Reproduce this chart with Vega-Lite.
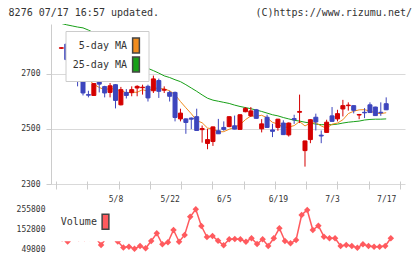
{
  "$schema": "https://vega.github.io/schema/vega-lite/v6.json",
  "padding": {"left": 8, "top": 8, "right": 4, "bottom": 2},
  "title": {
    "text": "8276 07/17 16:57 updated.\u00a0\u00a0\u00a0\u00a0\u00a0\u00a0\u00a0\u00a0\u00a0\u00a0\u00a0\u00a0\u00a0\u00a0\u00a0\u00a0(C)https://www.rizumu.net/",
    "anchor": "start", "frame": "bounds", "dx": -7.5, "offset": 6,
    "font": "DejaVu Sans Mono", "fontSize": 10, "fontWeight": "normal", "color": "#333333"
  },
  "datasets": {
    "stock": [
      {"i": 0, "d": "4/21", "o": 2792, "h": 2795, "l": 2790, "c": 2794, "ma5": null, "ma25": 2882, "v": 110000},
      {"i": 1, "d": "4/22", "o": 2807, "h": 2812, "l": 2744, "c": 2751, "ma5": null, "ma25": 2877, "v": 104000},
      {"i": 2, "d": "4/23", "o": 2744, "h": 2757, "l": 2715, "c": 2719, "ma5": null, "ma25": 2873, "v": 89000},
      {"i": 3, "d": "4/24", "o": 2713, "h": 2717, "l": 2654, "c": 2672, "ma5": null, "ma25": 2869, "v": 132000},
      {"i": 4, "d": "4/25", "o": 2671, "h": 2673, "l": 2621, "c": 2630, "ma5": 2713.2, "ma25": 2866, "v": 105000},
      {"i": 5, "d": "4/28", "o": 2624, "h": 2638, "l": 2614, "c": 2622, "ma5": 2678.8, "ma25": 2858, "v": 105000},
      {"i": 6, "d": "4/30", "o": 2621, "h": 2666, "l": 2619, "c": 2664, "ma5": 2661.4, "ma25": 2848, "v": 106000},
      {"i": 7, "d": "5/1", "o": 2672, "h": 2687, "l": 2632, "c": 2662, "ma5": 2650.0, "ma25": 2835, "v": 109000},
      {"i": 8, "d": "5/2", "o": 2653, "h": 2656, "l": 2614, "c": 2630, "ma5": 2641.6, "ma25": 2822, "v": 70400},
      {"i": 9, "d": "5/7", "o": 2632, "h": 2666, "l": 2614, "c": 2656, "ma5": 2646.8, "ma25": 2808, "v": 109000},
      {"i": 10, "d": "5/8", "o": 2660, "h": 2662, "l": 2574, "c": 2603, "ma5": 2643.0, "ma25": 2795, "v": 117000},
      {"i": 11, "d": "5/9", "o": 2587, "h": 2652, "l": 2585, "c": 2642, "ma5": 2638.6, "ma25": 2783, "v": 88400},
      {"i": 12, "d": "5/12", "o": 2632, "h": 2644, "l": 2610, "c": 2621, "ma5": 2630.4, "ma25": 2770, "v": 57500},
      {"i": 13, "d": "5/13", "o": 2631, "h": 2654, "l": 2618, "c": 2642, "ma5": 2632.8, "ma25": 2757, "v": 61600},
      {"i": 14, "d": "5/14", "o": 2648, "h": 2658, "l": 2618, "c": 2654, "ma5": 2632.4, "ma25": 2744, "v": 51300},
      {"i": 15, "d": "5/15", "o": 2649, "h": 2660, "l": 2624, "c": 2651, "ma5": 2642.0, "ma25": 2731, "v": 65200},
      {"i": 16, "d": "5/16", "o": 2654, "h": 2660, "l": 2599, "c": 2612, "ma5": 2636.0, "ma25": 2719, "v": 53400},
      {"i": 17, "d": "5/19", "o": 2638, "h": 2693, "l": 2630, "c": 2681, "ma5": 2648.0, "ma25": 2711, "v": 91000},
      {"i": 18, "d": "5/20", "o": 2675, "h": 2682, "l": 2612, "c": 2636, "ma5": 2646.8, "ma25": 2702, "v": 130600},
      {"i": 19, "d": "5/21", "o": 2640, "h": 2654, "l": 2630, "c": 2643, "ma5": 2644.6, "ma25": 2692, "v": 74000},
      {"i": 20, "d": "5/22", "o": 2632, "h": 2638, "l": 2599, "c": 2618, "ma5": 2638.0, "ma25": 2686, "v": 84300},
      {"i": 21, "d": "5/23", "o": 2632, "h": 2635, "l": 2527, "c": 2541, "ma5": 2623.8, "ma25": 2678, "v": 147700},
      {"i": 22, "d": "5/26", "o": 2536, "h": 2573, "l": 2527, "c": 2557, "ma5": 2599.0, "ma25": 2671, "v": 87400},
      {"i": 23, "d": "5/27", "o": 2536, "h": 2538, "l": 2482, "c": 2523, "ma5": 2576.4, "ma25": 2660, "v": 121900},
      {"i": 24, "d": "5/28", "o": 2539, "h": 2541, "l": 2499, "c": 2535, "ma5": 2554.8, "ma25": 2648, "v": 216000},
      {"i": 25, "d": "5/29", "o": 2544, "h": 2573, "l": 2494, "c": 2494, "ma5": 2530.0, "ma25": 2636, "v": 254300},
      {"i": 26, "d": "5/30", "o": 2497, "h": 2512, "l": 2450, "c": 2501, "ma5": 2522.0, "ma25": 2623, "v": 168300},
      {"i": 27, "d": "6/2", "o": 2447, "h": 2500, "l": 2426, "c": 2461, "ma5": 2502.8, "ma25": 2611, "v": 111500},
      {"i": 28, "d": "6/3", "o": 2454, "h": 2508, "l": 2438, "c": 2507, "ma5": 2499.6, "ma25": 2604, "v": 116700},
      {"i": 29, "d": "6/4", "o": 2493, "h": 2536, "l": 2482, "c": 2482, "ma5": 2489.0, "ma25": 2600, "v": 91700},
      {"i": 30, "d": "6/5", "o": 2505, "h": 2527, "l": 2493, "c": 2498, "ma5": 2489.8, "ma25": 2596, "v": 68600},
      {"i": 31, "d": "6/6", "o": 2508, "h": 2545, "l": 2506, "c": 2544, "ma5": 2498.4, "ma25": 2592, "v": 99800},
      {"i": 32, "d": "6/9", "o": 2511, "h": 2548, "l": 2498, "c": 2499, "ma5": 2506.0, "ma25": 2586, "v": 101300},
      {"i": 33, "d": "6/10", "o": 2498, "h": 2553, "l": 2497, "c": 2551, "ma5": 2514.8, "ma25": 2581, "v": 99800},
      {"i": 34, "d": "6/11", "o": 2562, "h": 2579, "l": 2560, "c": 2574, "ma5": 2533.2, "ma25": 2577, "v": 87400},
      {"i": 35, "d": "6/12", "o": 2547, "h": 2579, "l": 2543, "c": 2565, "ma5": 2546.6, "ma25": 2573, "v": 104900},
      {"i": 36, "d": "6/13", "o": 2569, "h": 2572, "l": 2537, "c": 2538, "ma5": 2545.4, "ma25": 2568, "v": 75600},
      {"i": 37, "d": "6/16", "o": 2500, "h": 2535, "l": 2487, "c": 2518, "ma5": 2549.2, "ma25": 2563, "v": 99800},
      {"i": 38, "d": "6/17", "o": 2542, "h": 2551, "l": 2504, "c": 2505, "ma5": 2540.0, "ma25": 2557, "v": 65200},
      {"i": 39, "d": "6/18", "o": 2496, "h": 2518, "l": 2470, "c": 2491, "ma5": 2523.4, "ma25": 2551, "v": 104900},
      {"i": 40, "d": "6/19", "o": 2505, "h": 2536, "l": 2493, "c": 2535, "ma5": 2517.4, "ma25": 2547, "v": 156400},
      {"i": 41, "d": "6/20", "o": 2521, "h": 2531, "l": 2479, "c": 2479, "ma5": 2505.6, "ma25": 2541, "v": 91000},
      {"i": 42, "d": "6/23", "o": 2478, "h": 2523, "l": 2472, "c": 2521, "ma5": 2506.2, "ma25": 2536, "v": 79100},
      {"i": 43, "d": "6/24", "o": 2537, "h": 2551, "l": 2518, "c": 2533, "ma5": 2511.8, "ma25": 2531, "v": 96200},
      {"i": 44, "d": "6/25", "o": 2560, "h": 2624, "l": 2521, "c": 2563, "ma5": 2526.2, "ma25": 2528, "v": 224900},
      {"i": 45, "d": "6/26", "o": 2421, "h": 2457, "l": 2363, "c": 2456, "ma5": 2510.4, "ma25": 2524, "v": 250700},
      {"i": 46, "d": "6/27", "o": 2461, "h": 2535, "l": 2448, "c": 2533, "ma5": 2521.2, "ma25": 2521, "v": 147700},
      {"i": 47, "d": "6/30", "o": 2542, "h": 2555, "l": 2494, "c": 2525, "ma5": 2522.0, "ma25": 2517, "v": 169800},
      {"i": 48, "d": "7/1", "o": 2477, "h": 2494, "l": 2448, "c": 2474, "ma5": 2510.2, "ma25": 2515, "v": 113200},
      {"i": 49, "d": "7/2", "o": 2487, "h": 2533, "l": 2486, "c": 2524, "ma5": 2502.4, "ma25": 2515, "v": 104900},
      {"i": 50, "d": "7/3", "o": 2547, "h": 2579, "l": 2526, "c": 2527, "ma5": 2516.6, "ma25": 2515, "v": 104900},
      {"i": 51, "d": "7/4", "o": 2536, "h": 2569, "l": 2527, "c": 2555, "ma5": 2521.0, "ma25": 2517, "v": 65200},
      {"i": 52, "d": "7/7", "o": 2572, "h": 2605, "l": 2545, "c": 2584, "ma5": 2532.8, "ma25": 2521, "v": 70400},
      {"i": 53, "d": "7/8", "o": 2584, "h": 2596, "l": 2566, "c": 2586, "ma5": 2555.2, "ma25": 2524, "v": 65200},
      {"i": 54, "d": "7/9", "o": 2584, "h": 2585, "l": 2556, "c": 2567, "ma5": 2563.8, "ma25": 2526, "v": 56500},
      {"i": 55, "d": "7/10", "o": 2550, "h": 2554, "l": 2535, "c": 2552, "ma5": 2568.8, "ma25": 2528, "v": 74000},
      {"i": 56, "d": "7/11", "o": 2560, "h": 2575, "l": 2539, "c": 2558, "ma5": 2569.4, "ma25": 2532, "v": 65200},
      {"i": 57, "d": "7/14", "o": 2587, "h": 2596, "l": 2558, "c": 2559, "ma5": 2564.4, "ma25": 2534, "v": 61600},
      {"i": 58, "d": "7/15", "o": 2579, "h": 2580, "l": 2547, "c": 2548, "ma5": 2556.8, "ma25": 2535, "v": 61600},
      {"i": 59, "d": "7/16", "o": 2560, "h": 2596, "l": 2547, "c": 2558, "ma5": 2555.0, "ma25": 2535, "v": 65200},
      {"i": 60, "d": "7/17", "o": 2591, "h": 2614, "l": 2568, "c": 2569, "ma5": 2558.4, "ma25": 2536, "v": 104900}
    ]
  },
  "spacing": 1,
  "vconcat": [
    {
      "width": 354,
      "height": 160,
      "data": {"name": "stock"},
      "encoding": {
        "y": {"type": "quantitative", "scale": {"domain": [2300, 2880], "nice": false, "zero": false},
          "axis": {"title": null, "values": [2300, 2500, 2700], "format": "d", "grid": true, "gridColor": "#d9d9d9", "domain": true, "domainColor": "#cccccc", "ticks": true, "tickSize": 5, "tickColor": "#cccccc", "labelPadding": 6}}
      },
      "layer": [
        {
          "mark": {"type": "line", "clip": true, "strokeWidth": 1, "color": "#18a018"},
          "encoding": {
            "x": {"field": "i", "type": "quantitative", "scale": {"domain": [-0.987, 62.549], "nice": false, "zero": false}, "axis": null},
            "y": {"field": "ma25"}
          }
        },
        {
          "mark": {"type": "line", "clip": true, "strokeWidth": 1, "color": "#f08c1e"},
          "encoding": {
            "x": {"field": "i", "type": "quantitative", "scale": {"domain": [-0.987, 62.549], "nice": false, "zero": false}, "axis": null},
            "y": {"field": "ma5"}
          }
        },
        {
          "mark": {"type": "rule", "strokeWidth": 1},
          "encoding": {
            "x": {"field": "i", "type": "quantitative", "scale": {"domain": [-0.987, 62.549], "nice": false, "zero": false},
              "axis": {"orient": "bottom", "title": null, "offset": -3, "values": [-0.987, 4.789, 10.565, 16.341, 22.117, 27.893, 33.669, 39.445, 45.221, 50.997, 56.773, 62.549], "labels": false, "grid": false, "domain": false, "ticks": true, "tickSize": 8, "tickColor": "#cccccc"}},
            "y": {"field": "l"},
            "y2": {"field": "h"},
            "color": {"condition": {"test": "datum.c >= datum.o", "value": "#d40000"}, "value": "#3d45bd"}
          }
        },
        {
          "mark": {"type": "bar", "size": 4, "strokeWidth": 1},
          "encoding": {
            "x": {"field": "i", "type": "quantitative", "scale": {"domain": [-0.987, 62.549], "nice": false, "zero": false},
              "axis": {"orient": "bottom", "title": null, "values": [10, 20, 30, 40, 50, 60], "labelExpr": "['5/8','5/22','6/5','6/19','7/3','7/17'][datum.value / 10 - 1]", "grid": false, "domain": false, "ticks": true, "tickOpacity": 0, "tickSize": 5, "labelPadding": 6}},
            "y": {"field": "o"},
            "y2": {"field": "c"},
            "color": {"condition": {"test": "datum.c >= datum.o", "value": "#d40000"}, "value": "#3d45bd"},
            "stroke": {"condition": {"test": "datum.c >= datum.o", "value": "#d40000"}, "value": "#3d45bd"}
          }
        },
        {
          "mark": {"type": "point", "filled": true, "opacity": 0, "size": 4, "clip": true},
          "encoding": {
            "x": {"field": "i", "type": "quantitative", "scale": {"domain": [-0.987, 62.549], "nice": false, "zero": false}, "axis": null},
            "y": {"field": "ma5"},
            "color": {"datum": "5-day MA", "scale": {"domain": ["5-day MA", "25-day MA"], "range": ["#f08c1e", "#18a018"]},
              "legend": {"orient": "none", "legendX": 14.5, "legendY": 7, "direction": "vertical", "title": null, "padding": 6, "fillColor": "#ffffff", "strokeColor": "#cccccc",
                "labelFont": "DejaVu Sans Mono", "labelFontSize": 10, "labelColor": "#333333", "labelAlign": "right", "labelOffset": -17.5, "labelLimit": 0,
                "symbolType": "M-0.45,-1H0.45V1H-0.45Z", "symbolSize": 225, "symbolOffset": 56, "symbolStrokeWidth": 1.5, "symbolStrokeColor": "#444444", "symbolOpacity": 1, "rowPadding": -4}}
          }
        },
        {
          "mark": {"type": "point", "filled": true, "opacity": 0, "size": 4, "clip": true},
          "encoding": {
            "x": {"field": "i", "type": "quantitative", "scale": {"domain": [-0.987, 62.549], "nice": false, "zero": false}, "axis": null},
            "y": {"field": "ma25"},
            "color": {"datum": "25-day MA", "scale": {"domain": ["5-day MA", "25-day MA"], "range": ["#f08c1e", "#18a018"]},
              "legend": {"orient": "none", "legendX": 14.5, "legendY": 7, "direction": "vertical", "title": null, "padding": 6, "fillColor": "#ffffff", "strokeColor": "#cccccc",
                "labelFont": "DejaVu Sans Mono", "labelFontSize": 10, "labelColor": "#333333", "labelAlign": "right", "labelOffset": -17.5, "labelLimit": 0,
                "symbolType": "M-0.45,-1H0.45V1H-0.45Z", "symbolSize": 225, "symbolOffset": 56, "symbolStrokeWidth": 1.5, "symbolStrokeColor": "#444444", "symbolOpacity": 1, "rowPadding": -4}}
          }
        }
      ],
      "resolve": {"axis": {"x": "independent"}}
    },
    {
      "width": 354,
      "height": 40,
      "data": {"name": "stock"},
      "encoding": {
        "y": {"field": "v", "type": "quantitative", "scale": {"domain": [49800, 255800], "nice": false, "zero": false},
          "axis": {"title": null, "values": [49800, 152800, 255800], "format": "d", "grid": false, "domain": false, "ticks": false, "tickSize": 0, "labelPadding": 6}},
        "x": {"field": "i", "type": "quantitative", "scale": {"domain": [-0.987, 62.549], "nice": false, "zero": false}, "axis": null}
      },
      "layer": [
        {
          "mark": {"type": "line", "strokeWidth": 1.5, "clip": false, "color": "#ff5a5e"}
        },
        {
          "mark": {"type": "point", "shape": "diamond", "size": 42, "filled": true, "opacity": 1, "clip": false},
          "encoding": {
            "color": {"datum": "Volume", "scale": {"domain": ["Volume"], "range": ["#ff5a5e"]},
              "legend": {"orient": "none", "legendX": -1.2, "legendY": -4.7, "direction": "vertical", "title": null, "padding": 9, "fillColor": "#ffffff",
                "labelFont": "DejaVu Sans Mono", "labelFontSize": 10, "labelColor": "#333333", "labelAlign": "right", "labelOffset": -17.1, "labelLimit": 0,
                "symbolType": "M-0.45,-1H0.45V1H-0.45Z", "symbolSize": 225, "symbolOffset": 38.2, "symbolStrokeWidth": 1.5, "symbolStrokeColor": "#444444", "symbolOpacity": 1}}
          }
        }
      ]
    }
  ],
  "resolve": {"scale": {"color": "independent", "x": "independent", "y": "independent"}, "legend": {"color": "independent"}},
  "config": {
    "view": {"stroke": null},
    "axis": {"labelFont": "DejaVu Sans Mono", "labelFontSize": 8, "labelColor": "#333333", "domainColor": "#cccccc", "tickColor": "#cccccc", "gridColor": "#d9d9d9"}
  }
}
